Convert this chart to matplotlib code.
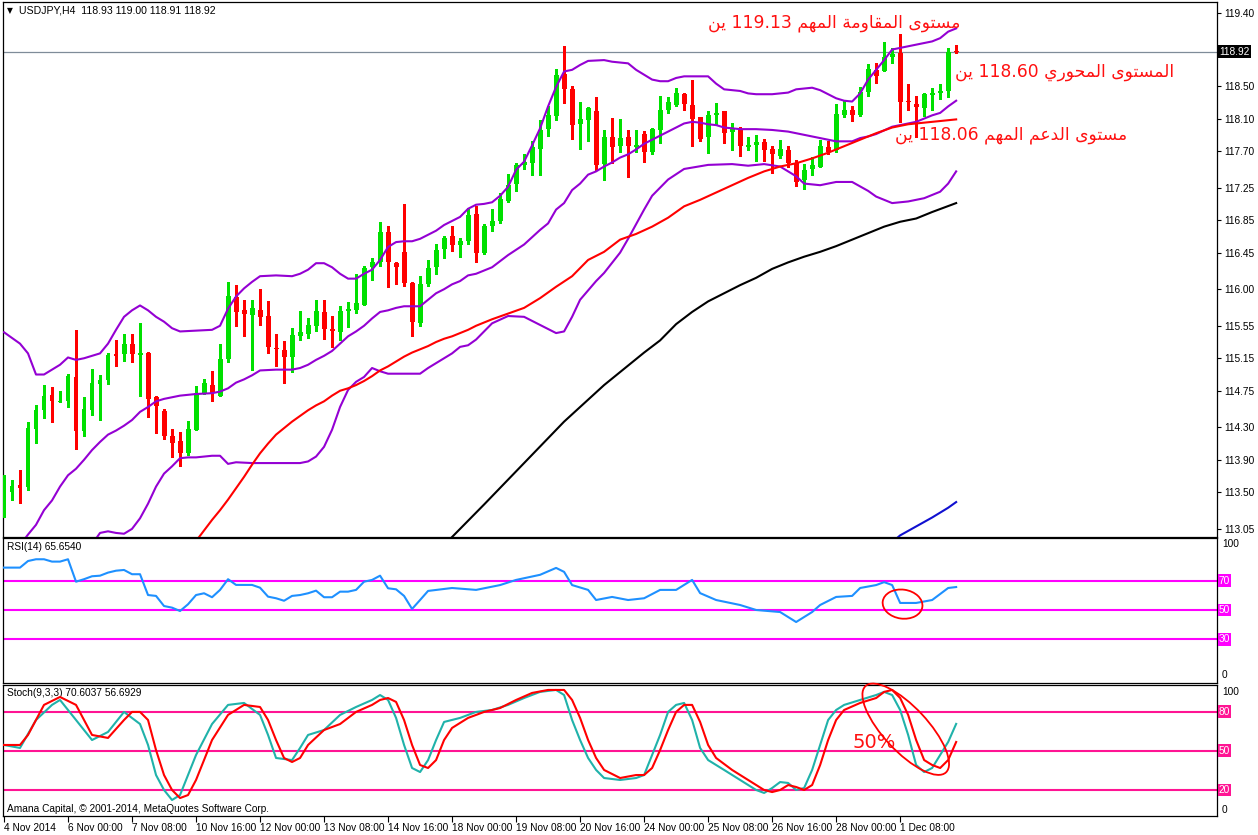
import matplotlib
matplotlib.use('Agg')
import matplotlib.pyplot as plt
from matplotlib.patches import Ellipse
from matplotlib.transforms import IdentityTransform, blended_transform_factory

# ---------------- data ----------------
opens = [113.40,113.50,113.59,113.56,114.28,114.51,114.70,114.61,114.63,114.92,
         114.25,114.51,114.83,114.88,115.20,115.20,115.33,115.19,115.22,114.67,
         114.50,114.19,114.13,113.99,114.27,114.72,114.82,114.69,115.14,115.90,
         115.74,115.68,115.74,115.67,115.28,115.25,115.16,115.42,115.45,115.55,
         115.72,115.51,115.47,115.73,115.74,115.81,116.27,116.34,116.70,116.32,
         116.46,116.08,115.59,116.06,116.27,116.49,116.65,116.55,116.59,116.93,
         116.44,116.78,116.84,117.09,117.29,117.53,117.55,117.73,117.97,118.13,
         118.65,118.46,118.03,118.08,118.19,117.54,117.87,117.76,117.87,117.75,
         117.91,117.69,117.96,118.21,118.27,118.40,118.27,118.12,117.87,118.14,
         118.19,117.93,117.97,117.755,117.78,117.81,117.73,117.64,117.71,117.55,
         117.35,117.48,117.51,117.75,117.71,118.14,118.21,118.14,118.43,118.70,
         118.69,118.86,118.91,118.31,118.28,118.23,118.39,118.41,118.44,118.93]
highs = [113.71,113.65,113.77,114.36,114.57,114.82,114.80,114.75,114.96,115.50,
         114.67,115.02,114.95,115.21,115.38,115.45,115.45,115.58,115.23,114.69,
         114.53,114.28,114.24,114.38,114.81,114.89,114.99,115.33,116.09,116.05,
         115.87,115.87,116.00,115.86,115.45,115.36,115.52,115.73,115.65,115.87,
         115.87,115.67,115.79,115.84,116.19,116.29,116.39,116.83,116.78,116.33,
         117.05,116.09,116.16,116.36,116.56,116.66,116.78,116.63,117.00,117.02,
         116.80,116.99,117.19,117.42,117.55,117.67,117.82,118.08,118.25,118.71,
         118.99,118.50,118.31,118.24,118.37,117.96,118.11,118.10,117.96,117.96,
         117.95,117.99,118.38,118.37,118.48,118.41,118.58,118.12,118.19,118.29,
         118.19,118.04,118.00,117.87,117.90,117.85,117.76,117.84,117.76,117.59,
         117.54,117.63,117.84,117.83,118.28,118.32,118.25,118.49,118.77,118.78,
         119.04,118.97,119.14,118.53,118.38,118.42,118.48,118.53,118.97,119.00]
lows = [113.20,113.41,113.37,113.53,114.11,114.41,114.36,114.61,114.55,114.03,
        114.19,114.45,114.39,114.83,115.05,115.12,115.10,114.68,114.43,114.23,
        114.16,113.93,113.82,113.96,114.27,114.71,114.62,114.69,115.11,115.55,
        115.43,115.01,115.56,115.22,115.06,114.85,114.98,115.37,115.40,115.49,
        115.39,115.29,115.38,115.54,115.71,115.81,116.11,116.29,116.03,116.06,
        116.04,115.43,115.55,116.04,116.19,116.38,116.47,116.40,116.56,116.34,
        116.43,116.72,116.81,117.07,117.21,117.48,117.40,117.40,117.88,118.08,
        118.29,117.85,117.73,117.82,117.47,117.34,117.55,117.69,117.38,117.69,
        117.57,117.67,117.80,118.17,118.25,118.21,117.76,117.82,117.68,118.02,
        117.80,117.71,117.64,117.71,117.58,117.58,117.43,117.62,117.50,117.27,
        117.23,117.41,117.50,117.67,117.69,118.12,118.07,118.13,118.38,118.54,
        118.69,118.78,118.06,118.21,117.87,118.13,118.21,118.34,118.37,118.91]
closes = [113.49,113.58,113.55,114.29,114.51,114.69,114.62,114.62,114.93,114.26,
          114.53,114.84,114.88,115.19,115.18,115.33,115.20,115.22,114.65,114.56,
          114.19,114.11,113.98,114.28,114.72,114.84,114.72,115.14,115.92,115.72,
          115.70,115.77,115.66,115.29,115.26,115.17,115.44,115.47,115.56,115.73,
          115.51,115.48,115.73,115.76,115.83,116.26,116.34,116.70,116.33,116.27,
          116.08,115.60,116.06,116.26,116.48,116.63,116.55,116.59,116.91,116.44,
          116.78,116.84,117.11,117.28,117.53,117.57,117.75,117.96,118.15,118.64,
          118.47,118.02,118.10,118.23,117.53,117.87,117.75,117.86,117.76,117.78,
          117.69,117.97,118.21,118.30,118.42,118.28,118.10,117.85,118.14,118.17,
          117.92,117.97,117.76,117.775,117.81,117.71,117.66,117.73,117.55,117.32,
          117.47,117.53,117.76,117.69,118.16,118.21,118.14,118.43,118.71,118.62,
          118.86,118.90,118.31,118.30,118.24,118.40,118.41,118.44,118.92,118.92]

# Bollinger bands (20) and moving averages, sampled at candle indices
bb_up_idx = [0,2,3,4,5,6,7,8,9,10,12,13,14,15,16,17,18,19,20,21,22,24,26,27,28,29,30,31,32,34,36,37,38,39,40,41,42,43,44,45,46,47,48,49,50,51,52,53,54,55,56,57,58,59,60,61,62,63,64,65,66,67,68,69,70,71,72,73,75,76,78,79,80,81,82,83,84,85,88,89,90,92,93,94,96,97,98,99,100,101,102,103,104,105,106,107,108,109,110,111,112,114,116,117,118,119]
bb_up = [115.47,115.33,115.21,114.95,114.95,115.01,115.07,115.16,115.13,115.15,115.21,115.33,115.50,115.66,115.74,115.80,115.74,115.66,115.60,115.52,115.48,115.49,115.50,115.55,115.76,115.91,116.01,116.09,116.16,116.17,116.16,116.19,116.24,116.32,116.32,116.27,116.19,116.13,116.13,116.19,116.24,116.36,116.52,116.58,116.59,116.59,116.62,116.67,116.72,116.79,116.84,116.89,116.99,117.04,117.05,117.07,117.15,117.26,117.47,117.57,117.77,117.98,118.25,118.49,118.68,118.70,118.76,118.81,118.82,118.80,118.78,118.70,118.64,118.58,118.56,118.56,118.60,118.62,118.62,118.53,118.46,118.44,118.41,118.40,118.40,118.41,118.42,118.46,118.47,118.48,118.45,118.40,118.35,118.32,118.31,118.41,118.58,118.70,118.82,118.95,118.97,119.01,119.05,119.09,119.17,119.21]
bb_mid_idx = [0,1,2,3,4,5,6,7,8,9,10,11,12,13,14,15,16,17,18,19,20,21,22,23,24,26,27,28,29,30,31,32,34,36,37,38,39,40,41,42,43,44,45,46,47,48,49,50,52,53,54,55,56,57,58,59,61,63,65,67,68,69,70,71,72,73,74,75,76,77,78,79,80,81,82,83,84,85,86,87,88,89,90,91,92,94,96,98,100,102,104,106,107,108,109,111,112,114,116,117,118,119]
bb_mid = [112.55,112.70,112.85,112.98,113.10,113.28,113.40,113.57,113.71,113.79,113.90,114.02,114.12,114.21,114.26,114.32,114.39,114.49,114.55,114.62,114.65,114.67,114.69,114.70,114.71,114.72,114.74,114.78,114.85,114.89,114.94,115.00,115.01,115.01,115.03,115.07,115.13,115.18,115.24,115.33,115.42,115.48,115.55,115.64,115.72,115.74,115.77,115.79,115.79,115.87,115.95,116.00,116.06,116.10,116.17,116.19,116.27,116.42,116.55,116.73,116.81,116.98,117.06,117.22,117.30,117.41,117.45,117.51,117.56,117.62,117.66,117.72,117.79,117.84,117.89,117.94,117.99,118.04,118.06,118.05,118.03,118.02,117.99,117.98,117.97,117.97,117.96,117.94,117.90,117.86,117.82,117.82,117.86,117.88,117.91,118.00,118.02,118.06,118.14,118.17,118.25,118.32]
bb_low_idx = [0,4,8,10,11,12,13,14,15,16,17,18,19,20,21,22,23,24,25,26,27,28,29,31,33,35,37,38,39,40,41,42,43,44,45,46,47,48,52,53,54,55,56,57,58,59,61,63,65,67,69,70,71,72,74,75,77,78,79,80,81,83,85,88,91,93,95,97,99,100,102,104,106,108,109,111,113,115,117,118,119]
bb_low = [109.60,111.25,112.26,112.65,112.86,113.00,113.02,113.00,112.99,113.05,113.18,113.36,113.57,113.73,113.82,113.92,113.93,113.93,113.94,113.95,113.95,113.85,113.87,113.86,113.86,113.86,113.86,113.88,113.94,114.06,114.27,114.55,114.76,114.86,114.92,115.03,114.99,114.96,114.96,115.03,115.09,115.15,115.21,115.29,115.31,115.38,115.58,115.67,115.66,115.56,115.46,115.48,115.66,115.87,116.10,116.20,116.45,116.62,116.80,116.98,117.15,117.35,117.48,117.53,117.54,117.52,117.54,117.51,117.39,117.30,117.28,117.32,117.32,117.21,117.14,117.06,117.08,117.12,117.20,117.30,117.45]
ma_red_idx = [20,24,25,26,27,28,29,30,31,32,33,34,35,36,37,38,39,40,41,42,43,44,45,46,47,48,49,50,51,52,53,54,55,56,57,58,59,61,63,65,67,69,71,73,75,77,79,81,83,85,87,89,91,93,95,97,99,101,103,105,107,109,111,113,115,117,119]
ma_red = [112.35,112.90,113.03,113.16,113.28,113.41,113.55,113.69,113.84,113.98,114.10,114.21,114.29,114.37,114.44,114.51,114.57,114.62,114.69,114.75,114.78,114.82,114.87,114.93,115.00,115.05,115.11,115.17,115.22,115.26,115.30,115.35,115.39,115.42,115.46,115.50,115.55,115.63,115.70,115.77,115.89,116.03,116.16,116.36,116.46,116.61,116.68,116.77,116.88,117.02,117.10,117.19,117.28,117.37,117.45,117.51,117.55,117.61,117.68,117.76,117.84,117.92,117.99,118.03,118.05,118.07,118.09]
ma_black_idx = [55,60,65,70,75,80,82,84,86,88,90,92,94,96,98,100,102,104,106,108,110,112,114,116,119]
ma_black = [112.85,113.35,113.86,114.37,114.82,115.22,115.37,115.57,115.72,115.85,115.95,116.05,116.14,116.25,116.33,116.40,116.46,116.53,116.61,116.69,116.77,116.83,116.87,116.95,117.06]
ma_blue_idx = [110,112,114,116,118,119]
ma_blue = [112.80,112.97,113.08,113.19,113.31,113.38]

rsi_idx = [0,2,3,4,5,6,7,8,9,10,11,12,13,14,15,16,17,18,19,20,21,22,23,24,25,26,27,28,29,30,31,32,33,34,35,36,37,38,39,40,41,42,43,44,45,46,47,48,49,50,51,52,53,56,59,62,64,67,69,70,71,73,74,76,78,80,82,84,86,87,89,92,94,97,99,101,102,104,106,107,109,110,111,112,114,116,118,119]
rsi = [78.9,78.9,83.4,84.6,84.6,83.0,83.0,84.6,69.3,71.0,73.0,73.4,75.5,76.8,77.3,74.4,74.4,60.2,59.6,52.7,51.6,49.3,53.9,60.2,61.4,58.7,63.7,71.0,67.1,67.1,67.1,65.2,59.1,58.0,56.3,59.6,60.2,61.4,63.2,58.7,58.7,62.5,62.5,63.7,69.3,70.5,73.4,64.8,64.1,59.6,50.7,56.8,63.0,65.0,63.7,67.0,70.5,74.0,78.7,76.0,67.0,63.7,56.8,58.9,56.8,58.0,63.7,63.7,70.5,61.5,56.8,53.4,50.0,48.6,41.8,48.6,53.4,58.9,59.6,65.0,67.0,69.0,67.0,54.8,54.8,56.8,65.0,65.654]

stk_idx = [0,2,4,6,7,9,11,13,15,17,18,19,20,21,22,23,24,26,28,30,32,33,34,36,37,38,40,42,44,46,47,48,49,50,51,52,53,54,55,57,59,61,63,65,67,69,70,71,72,73,74,75,77,79,80,81,82,83,84,85,86,87,88,90,92,94,95,96,97,98,99,100,101,102,103,104,105,107,109,110,111,112,113,114,115,116,117,118,119]
stoch_k = [54.4,52.1,73.6,85.2,89.0,73.6,58.2,64.4,79.8,70.5,54.4,31.3,19.8,12.1,15.9,31.3,46.7,70.5,85.2,86.7,77.5,62.1,44.4,42.8,52.1,62.1,65.9,77.5,83.6,89.0,92.8,89.0,75.2,54.4,36.7,33.6,42.8,58.2,72.1,75.2,79.8,81.3,85.2,90.5,95.2,96.7,92.8,73.6,58.2,44.4,35.2,29.0,27.5,29.0,31.3,46.7,62.1,79.8,85.2,86.7,73.6,52.1,42.8,35.2,27.5,19.8,17.5,21.3,25.9,25.2,19.8,21.3,35.2,54.4,73.6,81.3,85.2,89.0,92.8,95.2,92.8,81.3,62.1,39.0,33.6,36.7,46.7,56.7,70.6037]
std_idx = [0,2,3,5,7,9,11,13,15,16,17,18,19,20,21,22,23,24,25,26,28,30,32,33,34,35,36,37,38,40,42,44,46,47,48,49,50,51,52,53,54,55,56,58,60,62,64,66,68,70,71,72,73,74,75,77,79,80,81,82,83,84,85,86,87,88,89,91,93,95,96,97,98,99,100,101,102,103,104,105,107,109,110,111,112,113,114,115,116,117,118,119]
stoch_d = [54.4,54.4,62.1,85.2,91.3,85.2,62.1,59.8,73.6,79.8,79.8,73.6,50.5,31.3,19.8,13.6,15.9,27.5,42.8,58.2,77.5,85.2,83.6,73.6,58.2,44.4,41.3,44.4,54.4,65.9,70.5,79.8,85.2,89.0,90.5,87.5,73.6,54.4,39.0,36.7,42.8,58.2,67.5,75.2,79.8,82.8,89.0,94.4,96.7,96.7,89.0,75.2,58.2,44.4,35.2,29.0,31.3,31.3,36.7,50.5,65.9,79.8,85.2,85.2,72.1,54.4,44.4,35.2,27.5,19.8,18.2,19.8,23.6,22.1,19.8,23.6,39.0,58.2,73.6,81.3,86.7,90.5,95.2,96.7,90.5,77.5,58.2,42.8,39.0,36.7,42.8,56.6929]

price_ticks = [119.40, 118.50, 118.10, 117.70, 117.25, 116.85, 116.45, 116.00,
               115.55, 115.15, 114.75, 114.30, 113.90, 113.50, 113.05]
date_labels = ['4 Nov 2014', '6 Nov 00:00', '7 Nov 08:00', '10 Nov 16:00', '12 Nov 00:00',
               '13 Nov 08:00', '14 Nov 16:00', '18 Nov 00:00', '19 Nov 08:00', '20 Nov 16:00',
               '24 Nov 00:00', '25 Nov 08:00', '26 Nov 16:00', '28 Nov 00:00', '1 Dec 08:00']
date_tick_step = 8
last_price = 118.92
rsi_levels = [70, 50, 30]
stoch_levels = [80, 50, 20]

txt_resist = 'مستوى المقاومة المهم 119.13 ين'
txt_pivot = 'المستوى المحوري 118.60 ين'
txt_support = 'مستوى الدعم المهم 118.06 ين'

# ---------------- simple Arabic shaping for display ----------------
FORMS = {
    '\u0627': ('\uFE8D', '\uFE8E', None, None),
    '\u0629': ('\uFE93', '\uFE94', None, None),
    '\u062A': ('\uFE95', '\uFE96', '\uFE97', '\uFE98'),
    '\u062D': ('\uFEA1', '\uFEA2', '\uFEA3', '\uFEA4'),
    '\u062F': ('\uFEA9', '\uFEAA', None, None),
    '\u0631': ('\uFEAD', '\uFEAE', None, None),
    '\u0633': ('\uFEB1', '\uFEB2', '\uFEB3', '\uFEB4'),
    '\u0639': ('\uFEC9', '\uFECA', '\uFECB', '\uFECC'),
    '\u0642': ('\uFED5', '\uFED6', '\uFED7', '\uFED8'),
    '\u0644': ('\uFEDD', '\uFEDE', '\uFEDF', '\uFEE0'),
    '\u0645': ('\uFEE1', '\uFEE2', '\uFEE3', '\uFEE4'),
    '\u0646': ('\uFEE5', '\uFEE6', '\uFEE7', '\uFEE8'),
    '\u0647': ('\uFEE9', '\uFEEA', '\uFEEB', '\uFEEC'),
    '\u0648': ('\uFEED', '\uFEEE', None, None),
    '\u0649': ('\uFEEF', '\uFEF0', None, None),
    '\u064A': ('\uFEF1', '\uFEF2', '\uFEF3', '\uFEF4'),
}


def shape_word(w):
    out = []
    for k, ch in enumerate(w):
        f = FORMS.get(ch)
        if f is None:
            out.append(ch)
            continue
        prev = w[k - 1] if k > 0 else None
        nxt = w[k + 1] if k < len(w) - 1 else None
        jp = prev in FORMS and FORMS[prev][2] is not None
        jn = nxt in FORMS and f[2] is not None
        if jp and jn:
            out.append(f[3])
        elif jp:
            out.append(f[1])
        elif jn:
            out.append(f[2])
        else:
            out.append(f[0])
    return ''.join(out)


def visual(s):
    parts = []
    for w in s.split(' '):
        if any(c in FORMS for c in w):
            parts.append(shape_word(w)[::-1])
        else:
            parts.append(w)
    return ' '.join(reversed(parts))


# ---------------- figure ----------------
W, H = 1258, 835
fig = plt.figure(figsize=(W / 100, H / 100), dpi=100)
fig.patch.set_facecolor('white')
AXF = 'Liberation Sans'
FS = 7.3


def rect(x0, y0, x1, y1):
    return [x0 / W, 1 - y1 / H, (x1 - x0) / W, (y1 - y0) / H]


ax = fig.add_axes(rect(3, 2, 1217, 537))
axr = fig.add_axes(rect(3, 538, 1217, 683))
axs = fig.add_axes(rect(3, 685, 1217, 816))

XL = (-0.125, 151.6)
for a in (ax, axr, axs):
    a.set_xlim(*XL)
    a.set_facecolor('white')
    for s in a.spines.values():
        s.set_color('black')
        s.set_linewidth(0.9)
    a.yaxis.tick_right()
    a.tick_params(axis='y', which='both', length=3, width=0.8, pad=2,
                  labelsize=FS, colors='black')
    a.tick_params(axis='x', length=0, labelbottom=False)

# main candles
idx = list(range(len(opens)))
BULL, BEAR = '#00E000', '#FF0000'
cols = [BULL if c >= o else BEAR for o, c in zip(opens, closes)]
ax.vlines(idx, lows, highs, colors=cols, linewidth=0.8, antialiased=False, zorder=3)
bottoms = [min(o, c) for o, c in zip(opens, closes)]
heights = [max(abs(c - o), 0.012) for o, c in zip(opens, closes)]
ax.bar(idx, heights, bottom=bottoms, width=0.62, color=cols, linewidth=0,
       antialiased=False, zorder=4)

LW = 1.5
PURPLE = '#9400D3'
ax.plot(bb_up_idx, bb_up, color=PURPLE, lw=LW, zorder=5)
ax.plot(bb_mid_idx, bb_mid, color=PURPLE, lw=LW, zorder=5)
ax.plot(bb_low_idx, bb_low, color=PURPLE, lw=LW, zorder=5)
ax.plot(ma_red_idx, ma_red, color='#FF0000', lw=LW, zorder=5)
ax.plot(ma_black_idx, ma_black, color='black', lw=LW, zorder=5)
ax.plot(ma_blue_idx, ma_blue, color='#1010D0', lw=LW, zorder=5)
ax.axhline(last_price, color='#7F8C99', lw=0.9, zorder=2)

ax.set_ylim(112.95, 119.535)
ax.set_yticks(price_ticks)
ax.set_yticklabels(['%.2f' % v for v in price_ticks], fontfamily=AXF)
bt = blended_transform_factory(ax.transAxes, ax.transData)
ax.text(1.0015, last_price, '%.2f' % last_price, transform=bt, color='white',
        fontsize=FS, fontfamily=AXF, va='center', ha='left', clip_on=False,
        bbox=dict(boxstyle='square,pad=0.15', fc='black', ec='none'), zorder=10)

ax.text(4 / 1214, 0.985, '\u25bc', transform=ax.transAxes, fontsize=5.5,
        va='center', ha='left', color='black', family='DejaVu Sans')
ax.text(16 / 1214, 0.985, 'USDJPY,H4  118.93 119.00 118.91 118.92',
        transform=ax.transAxes, fontsize=7.6, fontfamily=AXF, va='center', ha='left')

# Arabic annotations
AR = dict(color='#FF1010', fontsize=12.3, family=['DejaVu Sans'], va='center')
fig.text(960 / W, 1 - 23 / H, visual(txt_resist), ha='right', **AR)
fig.text(955 / W, 1 - 72 / H, visual(txt_pivot), ha='left', **AR)
fig.text(895 / W, 1 - 135 / H, visual(txt_support), ha='left', **AR)

# RSI panel
axr.set_ylim(0.2, 99.1)
axr.set_yticks([])
for lv in rsi_levels:
    axr.axhline(lv, color='#FF00FF', lw=LW, zorder=2)
axr.plot(rsi_idx, rsi, color='#1E90FF', lw=LW, zorder=3)
br = blended_transform_factory(axr.transAxes, axr.transData)
for lv in rsi_levels:
    axr.text(1.0015, lv, str(lv), transform=br, color='white', fontsize=FS,
             fontfamily=AXF, va='center', ha='left', clip_on=False,
             bbox=dict(boxstyle='square,pad=0.12', fc='#FF00FF', ec='none'))
axr.text(1.004, 95.0, '100', transform=br, fontsize=FS, fontfamily=AXF, va='center', ha='left')
axr.text(1.004, 5.5, '0', transform=br, fontsize=FS, fontfamily=AXF, va='center', ha='left')
axr.text(4 / 1214, 0.94, 'RSI(14) 65.6540', transform=axr.transAxes, fontsize=FS,
         fontfamily=AXF, va='center', ha='left')

# Stochastic panel
axs.set_ylim(-0.2, 100.5)
axs.set_yticks([])
for lv in stoch_levels:
    axs.axhline(lv, color='#FF1493', lw=LW, zorder=2)
axs.plot(stk_idx, stoch_k, color='#20B2AA', lw=LW, zorder=3)
axs.plot(std_idx, stoch_d, color='#FF0000', lw=LW, zorder=4)
bs = blended_transform_factory(axs.transAxes, axs.transData)
for lv in stoch_levels:
    axs.text(1.0015, lv, str(lv), transform=bs, color='white', fontsize=FS,
             fontfamily=AXF, va='center', ha='left', clip_on=False,
             bbox=dict(boxstyle='square,pad=0.12', fc='#FF1493', ec='none'))
axs.text(1.004, 95.2, '100', transform=bs, fontsize=FS, fontfamily=AXF, va='center', ha='left')
axs.text(1.004, 4.4, '0', transform=bs, fontsize=FS, fontfamily=AXF, va='center', ha='left')
axs.text(4 / 1214, 0.94, 'Stoch(9,3,3) 70.6037 56.6929', transform=axs.transAxes,
         fontsize=FS, fontfamily=AXF, va='center', ha='left')
axs.text(4 / 1214, 0.05, 'Amana Capital, \u00a9 2001-2014, MetaQuotes Software Corp.',
         transform=axs.transAxes, fontsize=FS, fontfamily=AXF, va='center', ha='left')
axs.text(106.1, 56.0, '50%', color='#FF1010', fontsize=14,
         family='DejaVu Sans', va='center', ha='left')

# date axis
axs.set_xticks([i * date_tick_step for i in range(len(date_labels))])
axs.set_xticklabels(date_labels, ha='left', fontsize=FS, fontfamily=AXF)
axs.tick_params(axis='x', length=4, width=0.8, direction='out', labelbottom=True, pad=1)

# hand-drawn circles (display pixels)
fig.canvas.draw()
cx, cy = axr.transData.transform((112.3, 54.0))
fig.add_artist(Ellipse((cx, cy), 40, 29, angle=-8, fill=False, ec='#FF0000', lw=1.3,
                       transform=IdentityTransform()))
cx, cy = axs.transData.transform((112.7, 66.5))
fig.add_artist(Ellipse((cx, cy), 118, 44, angle=-47, fill=False, ec='#FF0000', lw=1.3,
                       transform=IdentityTransform()))

fig.savefig('out.png', dpi=100)
